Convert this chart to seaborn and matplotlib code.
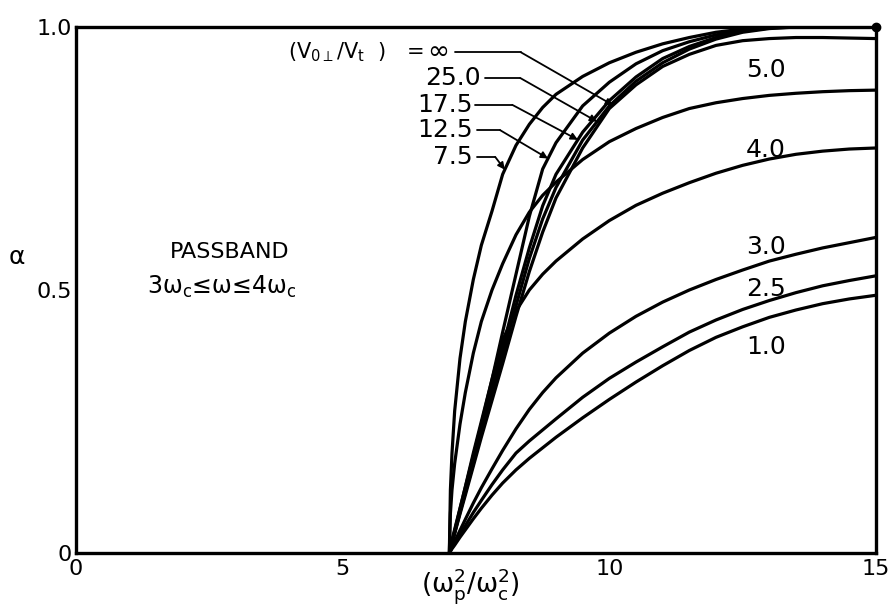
import numpy as np
import pandas as pd
import matplotlib
matplotlib.use("Agg")
import matplotlib.pyplot as plt
import seaborn as sns

# ---- data ---------------------------------------------------------------
# plasma-to-cyclotron frequency ratio (omega_p^2 / omega_c^2)
x_ratio = [7.0, 7.02, 7.05, 7.1, 7.2, 7.3, 7.45, 7.6, 7.8, 8.0, 8.25, 8.5, 8.75,
           9.0, 9.5, 10.0, 10.5, 11.0, 11.5, 12.0, 12.5, 13.0, 13.5, 14.0, 14.5, 15.0]

# alpha for each value of V0perp / Vt
alpha_inf = [0.0, 0.007, 0.018, 0.037, 0.074, 0.11, 0.165, 0.22, 0.29, 0.36, 0.45, 0.535, 0.61,
             0.675, 0.77, 0.845, 0.89, 0.925, 0.948, 0.965, 0.974, 0.978, 0.98, 0.98, 0.979, 0.978]
alpha_25 = [0.0, 0.008, 0.019, 0.038, 0.077, 0.115, 0.17, 0.23, 0.30, 0.375, 0.47, 0.56, 0.635,
            0.695, 0.785, 0.85, 0.897, 0.932, 0.958, 0.977, 0.99, 0.997, 1.0, 1.0, 1.0, 1.0]
alpha_17 = [0.0, 0.008, 0.02, 0.04, 0.08, 0.118, 0.175, 0.235, 0.31, 0.39, 0.49, 0.58, 0.66,
            0.72, 0.80, 0.86, 0.905, 0.94, 0.963, 0.98, 0.992, 0.998, 1.0, 1.0, 1.0, 1.0]
alpha_12 = [0.0, 0.008, 0.021, 0.042, 0.084, 0.126, 0.19, 0.25, 0.33, 0.42, 0.53, 0.64, 0.73,
            0.78, 0.85, 0.895, 0.93, 0.955, 0.972, 0.985, 0.994, 1.0, 1.0, 1.0, 1.0, 1.0]
alpha_7 = [0.0, 0.12, 0.19, 0.27, 0.37, 0.44, 0.52, 0.585, 0.65, 0.72, 0.775, 0.815, 0.847,
           0.872, 0.906, 0.932, 0.952, 0.968, 0.98, 0.99, 0.996, 1.0, 1.0, 1.0, 1.0, 1.0]
alpha_5 = [0.0, 0.075, 0.12, 0.17, 0.245, 0.305, 0.38, 0.44, 0.50, 0.55, 0.605, 0.648, 0.68,
           0.705, 0.748, 0.782, 0.807, 0.828, 0.845, 0.856, 0.864, 0.87, 0.874, 0.877, 0.879, 0.88]
alpha_4 = [0.0, 0.01, 0.025, 0.045, 0.085, 0.125, 0.185, 0.245, 0.33, 0.405, 0.46, 0.5, 0.53,
           0.555, 0.597, 0.632, 0.661, 0.684, 0.704, 0.722, 0.737, 0.749, 0.758, 0.764, 0.768, 0.77]
alpha_3 = [0.0, 0.005, 0.012, 0.022, 0.043, 0.064, 0.095, 0.124, 0.16, 0.195, 0.236, 0.273, 0.305,
           0.333, 0.38, 0.418, 0.45, 0.477, 0.5, 0.52, 0.538, 0.555, 0.568, 0.58, 0.59, 0.60]
alpha_2 = [0.0, 0.004, 0.01, 0.018, 0.035, 0.052, 0.077, 0.1, 0.13, 0.158, 0.19, 0.213, 0.234,
           0.255, 0.296, 0.332, 0.363, 0.392, 0.42, 0.443, 0.463, 0.48, 0.495, 0.508, 0.518, 0.527]
alpha_1 = [0.0, 0.003, 0.008, 0.015, 0.03, 0.044, 0.065, 0.085, 0.11, 0.133, 0.158, 0.18, 0.2,
           0.22, 0.257, 0.292, 0.325, 0.356, 0.385, 0.41, 0.43, 0.448, 0.462, 0.474, 0.483, 0.49]

curve_names = ["inf", "25.0", "17.5", "12.5", "7.5", "5.0", "4.0", "3.0", "2.5", "1.0"]
curve_values = [alpha_inf, alpha_25, alpha_17, alpha_12, alpha_7,
                alpha_5, alpha_4, alpha_3, alpha_2, alpha_1]

# labels at the left, tied to their curves by leader arrows
leader_names = ["25.0", "17.5", "12.5", "7.5"]
leader_tip_x = [9.77, 9.41, 8.85, 8.04]
# labels written directly beside the curves on the right
side_names = ["5.0", "4.0", "3.0", "2.5", "1.0"]
side_y = [0.918, 0.766, 0.582, 0.502, 0.392]

xtick_vals = [0, 5, 10, 15]
xtick_text = ["0", "5", "10", "15"]
ytick_vals = [0, 0.5, 1.0]
ytick_text = ["0", "0.5", "1.0"]

# ---- figure -------------------------------------------------------------
sns.set_style("white")
plt.rcParams["font.family"] = ["DejaVu Sans"]
plt.rcParams["mathtext.default"] = "regular"
plt.rcParams["mathtext.fontset"] = "dejavusans"
for key in ("text.color", "axes.labelcolor", "xtick.color", "ytick.color"):
    plt.rcParams[key] = "black"

W, H = 891, 605
fig = plt.figure(figsize=(W / 100, H / 100), dpi=100)
ax = fig.add_axes([76 / W, 1 - 553 / H, 800 / W, 526 / H])

rows = []
for name, ys in zip(curve_names, curve_values):
    for xv, yv in zip(x_ratio, ys):
        rows.append({"x": xv, "alpha": yv, "ratio": name})
df = pd.DataFrame(rows)

sns.lineplot(data=df, x="x", y="alpha", hue="ratio", units="ratio", estimator=None,
             palette={n: "black" for n in curve_names}, legend=False, lw=2.3,
             ax=ax, sort=True)

ax.set_xlim(0, 15)
ax.set_ylim(0, 1.0)
for s in ax.spines.values():
    s.set_linewidth(2.4)
    s.set_color("black")
    s.set_visible(True)

ax.set_xticks(xtick_vals)
ax.set_xticklabels(xtick_text)
ax.set_yticks(ytick_vals)
ax.set_yticklabels(ytick_text)
ax.tick_params(axis="x", direction="in", length=11, width=1.6, labelsize=16, pad=4)
ax.tick_params(axis="y", direction="in", length=12, width=1.6, labelsize=16, pad=3)
ax.set_xlabel("")
ax.set_ylabel("")

# end point marker at the top right corner
ax.plot([15], [1.0], "o", color="black", ms=6, clip_on=False, zorder=5)

# header of the parameter list
ax.text(3.98, 0.952, r"(V$_{0\perp}$/V$_{t}$  )", fontsize=15, ha="left", va="center")
ax.text(6.36, 0.952, "=", fontsize=15, ha="center", va="center")
ax.text(6.79, 0.952, "∞", fontsize=19, ha="center", va="center")

# leader for the infinite case
tip_inf = (10.07, float(np.interp(10.07, x_ratio, alpha_inf)))
ax.plot([7.11, 8.34], [0.952, 0.952], color="black", lw=1.3)
ax.annotate("", xy=tip_inf, xytext=(8.34, 0.952),
            arrowprops=dict(arrowstyle="-|>", color="black", lw=1.3, mutation_scale=10,
                            shrinkA=0, shrinkB=0))

leader_text_y = [0.903, 0.852, 0.804, 0.753]
leader_text_right = [7.59, 7.43, 7.44, 7.44]
leader_start = [7.67, 7.48, 7.52, 7.52]
leader_bend = [8.33, 8.18, 7.95, 7.86]
leader_curves = [alpha_25, alpha_17, alpha_12, alpha_7]
for name, ty, tr, x0, xb, tx, cv in zip(leader_names, leader_text_y, leader_text_right,
                                       leader_start, leader_bend, leader_tip_x, leader_curves):
    ax.text(tr, ty, name, fontsize=18, ha="right", va="center")
    ax.plot([x0, xb], [ty, ty], color="black", lw=1.3)
    tip = (tx, float(np.interp(tx, x_ratio, cv)))
    ax.annotate("", xy=tip, xytext=(xb, ty),
                arrowprops=dict(arrowstyle="-|>", color="black", lw=1.3, mutation_scale=10,
                                shrinkA=0, shrinkB=0))

for name, yv in zip(side_names, side_y):
    ax.text(12.94, yv, name, fontsize=18, ha="center", va="center")

# passband annotation
ax.text(2.89, 0.572, "PASSBAND", fontsize=16, ha="center", va="center")
ax.text(1.33, 0.505, r"3ω$_c$≤ω≤4ω$_c$", fontsize=17, ha="left", va="center")

# axis titles
fig.text(17 / W, 1 - 257 / H, "α", fontsize=18, ha="center", va="center")
fig.text(470 / W, 1 - 586 / H, r"(ω$_p^2$/ω$_c^2$)", fontsize=19, ha="center", va="center")

fig.savefig("out.png", dpi=100)
